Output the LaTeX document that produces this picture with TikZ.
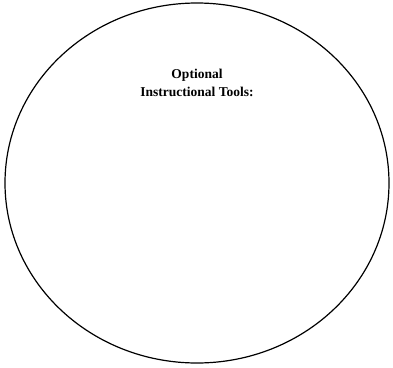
\documentclass[tikz,border=0pt]{standalone}
\usepackage{fontspec}
\setmainfont{Liberation Serif}
\usetikzlibrary{shapes.geometric}

\begin{document}
\begin{tikzpicture}[
        x=1pt, y=-1pt,
        oval/.style={ellipse, draw, line width=1.2pt, minimum width=384pt, minimum height=360pt, inner sep=0pt},
        title/.style={font=\fontsize{13.5}{18.5}\selectfont\bfseries, align=center}
    ]
        \useasboundingbox (0,0) rectangle (393,367);
        % Outer oval
        \node[oval] (tools) at (197,183) {};
        % Heading
        \node[title] (head) at (197,83) {Optional\\Instructional Tools:};
    \end{tikzpicture}
\end{document}
